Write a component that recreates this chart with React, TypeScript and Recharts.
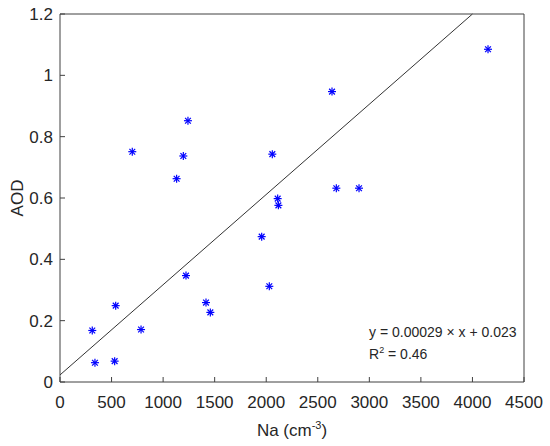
import React from "react";
import {
  ScatterChart,
  Scatter,
  XAxis,
  YAxis,
  ReferenceLine,
  Label,
  Customized,
} from "recharts";

// Na number concentration (cm^-3) and AOD
const naValues = [
  313, 339, 530, 540, 701, 786, 1131, 1196, 1222, 1241, 1416, 1458, 1956, 2030,
  2059, 2111, 2118, 2638, 2680, 2900, 4151,
];
const aodValues = [
  0.168, 0.063, 0.068, 0.249, 0.751, 0.171, 0.663, 0.737, 0.347, 0.852, 0.259,
  0.227, 0.474, 0.312, 0.743, 0.598, 0.576, 0.947, 0.632, 0.632, 1.085,
];

const xTicks = [0, 500, 1000, 1500, 2000, 2500, 3000, 3500, 4000, 4500];
const yTicks = [0, 0.2, 0.4, 0.6, 0.8, 1, 1.2];

// linear fit y = 0.00029x + 0.023, drawn until it leaves the top of the box
const fitStart = { x: 0, y: 0.023 };
const fitEnd = { x: 4000, y: 1.2 };

const fitText = "y = 0.00029 \u00d7 x + 0.023";
const r2Text = "0.46";

const points = naValues.map((na, i) => ({ na, aod: aodValues[i] }));

const FONT = "'Liberation Sans', Arial, Helvetica, sans-serif";
const AXIS = "#404040";
const TEXT = "#262626";

function Asterisk(props: any) {
  const { cx, cy } = props;
  const r = 4;
  const d = r * 0.72;
  return (
    <g stroke="#0000ff" strokeWidth={1.2}>
      <line x1={cx - r} y1={cy} x2={cx + r} y2={cy} />
      <line x1={cx} y1={cy - r} x2={cx} y2={cy + r} />
      <line x1={cx - d} y1={cy - d} x2={cx + d} y2={cy + d} />
      <line x1={cx - d} y1={cy + d} x2={cx + d} y2={cy - d} />
    </g>
  );
}

function FitAnnotation(props: any) {
  const { offset } = props;
  const left = offset ? offset.left + offset.width : 524;
  const bottom = offset ? offset.top + offset.height : 382;
  return (
    <g fontFamily={FONT} fill={TEXT} fontSize={14}>
      <text x={left - 155} y={bottom - 45}>
        {fitText}
      </text>
      <text x={left - 155} y={bottom - 23}>
        R
        <tspan dy={-6} fontSize={9}>
          2
        </tspan>
        <tspan dy={6}>{" = " + r2Text}</tspan>
      </text>
    </g>
  );
}

export default function App() {
  return (
    <div style={{ position: "absolute", left: 0, top: 0, background: "#fff" }}>
      <ScatterChart
        width={550}
        height={446}
        margin={{ top: 0, right: 0, bottom: 0, left: 0 }}
        style={{ fontFamily: FONT }}
      >
        <XAxis
          type="number"
          dataKey="na"
          domain={[0, 4500]}
          ticks={xTicks}
          interval={0}
          height={64}
          tickSize={-5}
          tickMargin={19}
          axisLine={{ stroke: AXIS }}
          tickLine={{ stroke: AXIS }}
          tick={{ fill: TEXT, fontSize: 17 }}
        >
          <Label
            content={(p: any) => {
              const vb = p.viewBox;
              const cx = vb.x + vb.width / 2;
              return (
                <text
                  x={cx}
                  y={vb.y + 54}
                  textAnchor="middle"
                  fontSize={17}
                  fill={TEXT}
                  fontFamily={FONT}
                >
                  Na (cm
                  <tspan dy={-7} fontSize={11}>
                    -3
                  </tspan>
                  <tspan dy={7}>)</tspan>
                </text>
              );
            }}
          />
        </XAxis>
        <XAxis
          xAxisId="top"
          orientation="top"
          type="number"
          domain={[0, 4500]}
          ticks={xTicks}
          interval={0}
          height={14}
          tickSize={-5}
          axisLine={{ stroke: AXIS }}
          tickLine={{ stroke: AXIS }}
          tick={() => <g />}
        />
        <YAxis
          type="number"
          dataKey="aod"
          domain={[0, 1.2]}
          ticks={yTicks}
          interval={0}
          width={60}
          tickSize={-5}
          tickMargin={12}
          axisLine={{ stroke: AXIS }}
          tickLine={{ stroke: AXIS }}
          tick={{ fill: TEXT, fontSize: 17 }}
        >
          <Label
            content={(p: any) => {
              const vb = p.viewBox;
              const cy = vb.y + vb.height / 2;
              return (
                <text
                  x={23}
                  y={cy}
                  transform={`rotate(-90, 23, ${cy})`}
                  textAnchor="middle"
                  fontSize={17}
                  fill={TEXT}
                  fontFamily={FONT}
                >
                  AOD
                </text>
              );
            }}
          />
        </YAxis>
        <YAxis
          yAxisId="right"
          orientation="right"
          type="number"
          domain={[0, 1.2]}
          ticks={yTicks}
          interval={0}
          width={26}
          tickSize={-5}
          axisLine={{ stroke: AXIS }}
          tickLine={{ stroke: AXIS }}
          tick={() => <g />}
        />
        <ReferenceLine
          segment={[fitStart, fitEnd]}
          stroke="#333333"
          strokeWidth={1}
        />
        <Scatter
          data={points}
          shape={<Asterisk />}
          isAnimationActive={false}
        />
        <Customized component={FitAnnotation} />
      </ScatterChart>
    </div>
  );
}
